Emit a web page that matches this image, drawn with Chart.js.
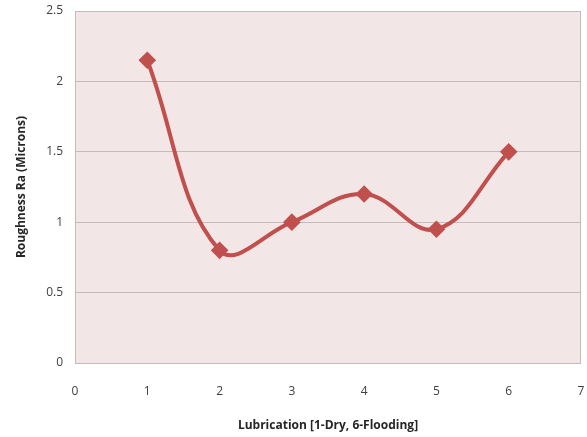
<!DOCTYPE html>
<html>
<head>
<meta charset="utf-8">
<script src="https://cdn.jsdelivr.net/npm/chart.js@4/dist/chart.umd.min.js"></script>
<style>
  html, body { margin: 0; padding: 0; background: #fff; }
  #wrap { width: 587px; height: 437px; }
</style>
</head>
<body>
<div id="wrap"><canvas id="chart" width="587" height="437"></canvas></div>
<script>
var lubrication = [1, 2, 3, 4, 5, 6];
var roughness = [2.15, 0.8, 1.0, 1.2, 0.95, 1.5];
var xTicks = [0, 1, 2, 3, 4, 5, 6, 7];
var yTicks = [0, 0.5, 1, 1.5, 2, 2.5];

var points = [];
for (var i = 0; i < lubrication.length; i++) {
  points.push({ x: lubrication[i], y: roughness[i] });
}

// pink plot area with grey frame, like the excel original
var plotBack = {
  id: 'plotBack',
  beforeDraw: function (chart) {
    var a = chart.chartArea, c = chart.ctx;
    c.save();
    c.fillStyle = '#f2e6e6';
    c.fillRect(a.left, a.top, a.right - a.left, a.bottom - a.top);
    c.restore();
  },
  beforeDatasetsDraw: function (chart) {
    var a = chart.chartArea, c = chart.ctx;
    c.save();
    c.strokeStyle = '#c4bcbc';
    c.lineWidth = 1;
    c.strokeRect(a.left + 0.5, a.top + 0.5, a.right - a.left - 1, a.bottom - a.top);
    c.restore();
  }
};

var ctx = document.getElementById('chart');
var chart = new Chart(ctx.getContext('2d'), {
  type: 'line',
  data: {
    datasets: [{
      data: points,
      borderColor: '#c0504d',
      backgroundColor: '#c0504d',
      borderWidth: 4,
      tension: 0.4,
      pointStyle: 'rectRot',
      pointRadius: 6,
      pointHoverRadius: 6,
      fill: false,
      clip: false
    }]
  },
  plugins: [plotBack],
  options: {
    responsive: false,
    animation: false,
    layout: { autoPadding: false, padding: { left: 0, right: 6, top: 11, bottom: 0 } },
    plugins: { legend: { display: false }, tooltip: { enabled: false } },
    scales: {
      x: {
        type: 'linear',
        min: 0,
        max: 7,
        afterBuildTicks: function (s) { s.ticks = xTicks.map(function (v) { return { value: v }; }); },
        afterFit: function (s) { s.height = 74; s.paddingLeft = 0; s.paddingRight = 0; },
        grid: { display: false, drawTicks: false },
        border: { display: false },
        ticks: {
          padding: 21, color: '#404040', maxRotation: 0, autoSkip: false,
          font: { family: 'Open Sans', size: 12 },
          callback: function (v) { return String(v); }
        },
        title: {
          display: true,
          text: 'Lubrication [1-Dry, 6-Flooding]',
          color: '#262626',
          font: { family: 'Open Sans', size: 12, weight: 'bold' },
          padding: { top: 4, bottom: 4 }
        }
      },
      y: {
        min: 0,
        max: 2.5,
        afterBuildTicks: function (s) { s.ticks = yTicks.map(function (v) { return { value: v }; }); },
        afterFit: function (s) { s.width = 75; s.paddingTop = 0; s.paddingBottom = 0; },
        grid: { color: '#c4bcbc', drawTicks: false, lineWidth: 1 },
        border: { display: false },
        ticks: {
          padding: 12, color: '#404040',
          font: { family: 'Open Sans', size: 12 },
          callback: function (v) { return String(v); }
        },
        title: {
          display: true,
          text: 'Roughness Ra (Microns)',
          color: '#262626',
          font: { family: 'Open Sans', size: 12, weight: 'bold' },
          padding: { top: 14, bottom: 4 }
        }
      }
    }
  }
});
</script>
</body>
</html>
